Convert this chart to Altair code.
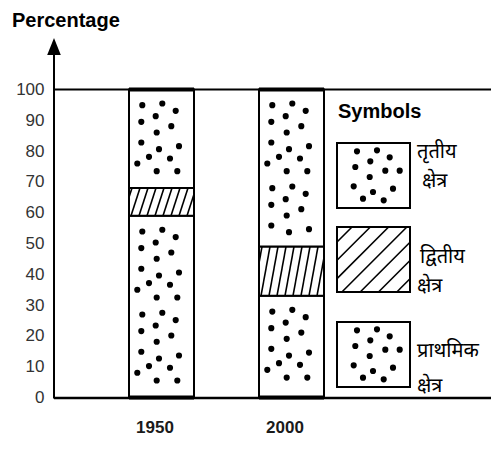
import altair as alt
import pandas as pd
import numpy as np

# ---------------- data ----------------
years = ["1950", "2000"]
primary = [59, 33]      # प्राथमिक क्षेत्र
secondary = [9, 16]     # द्वितीय क्षेत्र
tertiary = [32, 51]     # तृतीय क्षेत्र
sector_names = ["तृतीय", "द्वितीय", "प्राथमिक"]   # legend order, top to bottom
sector_word = "क्षेत्र"
y_ticks = list(range(0, 101, 10))

# ---------------- layout / style ----------------
W, H = 345, 308
STEP = 130.0          # px between the two bars
BAR = 65.0            # bar width px
PXU = H / 100.0       # px per percent
X_MIN = -107.5 / STEP
X_MAX = (W - 107.5) / STEP
HALF = BAR / 2 / STEP

LATIN = "Liberation Sans"
DEVA = "Noto Sans Devanagari, Lohit Devanagari, Mukta, FreeSans, sans-serif"
DOT_SIZE = 38

DOT_MOTIF = [(13.3, 1.7), (33.3, 0), (46.7, 7.3), (12.3, 18.3), (26.7, 12.7),
             (42.3, 22.7), (27.7, 29), (12.3, 39), (30, 45.7), (50, 42.7),
             (20, 53.3), (8.3, 60), (41, 55), (27.7, 67.7), (48.3, 67.7)]
LEG_MOTIF = [(20, 8.3), (40, 7.3), (52.7, 14.3), (18.3, 24), (33.3, 18.3),
             (48.3, 27.7), (62.7, 27.7), (32.7, 34), (16.7, 43.3), (36, 49),
             (56, 45.7), (26, 55.7), (46.7, 57.3)]

# ---------------- derived tables ----------------
seg_rows, dot_rows, hatch_rows, cap_rows = [], [], [], []
for i, yr in enumerate(years):
    p, s, t = primary[i], secondary[i], tertiary[i]
    segs = [("dots", 0, p), ("hatch", p, p + s), ("dots", p + s, p + s + t)]
    x0, x1 = i - HALF, i + HALF
    cap_rows.append({"x0": x0, "x1": x1, "y": 0})
    cap_rows.append({"x0": x0, "x1": x1, "y": p + s + t})
    for kind, y0, y1 in segs:
        seg_rows.append({"x0": x0, "x1": x1, "y0": y0, "y1": y1})
        h = (y1 - y0) * PXU
        if kind == "dots":
            k = 0
            while 14 + k * 83 < h - 8:
                base = 14 + k * 83
                for dx, dy in DOT_MOTIF:
                    d = base + dy
                    if d <= h - 8:
                        dot_rows.append({"x": x0 + dx / STEP, "y": y1 - d / PXU})
                k += 1
        else:
            sp, sl = 8.0, 9.0
            for b in np.arange(-sl + 3, BAR, sp):
                xa, ya = b, 0.0
                xb, yb = b + sl, h
                if xa < 0:
                    f = -xa / sl
                    xa, ya = 0.0, f * h
                if xb > BAR:
                    f = (BAR - b) / sl
                    xb, yb = BAR, f * h
                hatch_rows.append({"x": x0 + xa / STEP, "y": y0 + ya / PXU,
                                   "x2": x0 + xb / STEP, "y2": y0 + yb / PXU})

segs_df = pd.DataFrame(seg_rows)
dots_df = pd.DataFrame(dot_rows)
hatch_df = pd.DataFrame(hatch_rows)
caps_df = pd.DataFrame(cap_rows)

xs = alt.Scale(domain=[X_MIN, X_MAX], nice=False, zero=False)
ys = alt.Scale(domain=[0, 100], nice=False)

label_expr = "[" + ",".join("'%s'" % y for y in years) + "][datum.value]"
X_AXIS = alt.Axis(values=list(range(len(years))), labelExpr=label_expr,
                  title=None, domain=False, ticks=False, grid=False,
                  labelFont=LATIN, labelFontSize=17, labelFontWeight="bold",
                  labelColor="#1a1a1a", labelPadding=22, labelOffset=-7)
Y_AXIS = alt.Axis(values=y_ticks, title=None, domain=False, ticks=False,
                  grid=False, labelFont=LATIN, labelFontSize=17,
                  labelColor="#333333", labelPadding=10)

def X(f):
    return alt.X(f, scale=xs, axis=X_AXIS)

def Y(f):
    return alt.Y(f, scale=ys, axis=Y_AXIS)

bars = alt.Chart(segs_df).mark_rect(fill="white", stroke="black", strokeWidth=2).encode(
    x=X("x0:Q"), x2="x1:Q", y=Y("y0:Q"), y2="y1:Q")

dots = alt.Chart(dots_df).mark_point(shape="circle", filled=True, size=DOT_SIZE,
                                     color="black", opacity=1).encode(
    x=X("x:Q"), y=Y("y:Q"))

hatch = alt.Chart(hatch_df).mark_rule(color="black", strokeWidth=1.6).encode(
    x=X("x:Q"), y=Y("y:Q"), x2="x2:Q", y2="y2:Q")

caps = alt.Chart(caps_df).mark_rule(color="black", strokeWidth=4).encode(
    x=X("x0:Q"), x2="x1:Q", y=Y("y:Q"))

# frame lines
base_df = pd.DataFrame({"a": [0]})
top_line = alt.Chart(base_df).mark_rule(color="black", strokeWidth=2).encode(
    x=alt.value(0), x2=alt.value(445), y=alt.value(0))
bottom_line = alt.Chart(base_df).mark_rule(color="black", strokeWidth=2.5).encode(
    x=alt.value(0), x2=alt.value(445), y=alt.value(H + 0.5))
y_line = alt.Chart(base_df).mark_rule(color="black", strokeWidth=2).encode(
    x=alt.value(0), y=alt.value(-44), y2=alt.value(H + 1))
arrow = alt.Chart(base_df).mark_point(shape="M0,-1L0.8,1L-0.8,1Z", filled=True,
                                      size=289, color="black", opacity=1).encode(
    x=alt.value(0), y=alt.value(-43))

# legend
LX, LW, LH = 283, 73, 65
LTOPS = [53.5, 137.5, 232.5]
LKIND = ["dots", "hatch", "dots"]
box_rows, ldot_rows, lh_rows = [], [], []
for top, kind in zip(LTOPS, LKIND):
    box_rows.append({"x": LX, "x2": LX + LW, "y": top, "y2": top + LH})
    if kind == "dots":
        for dx, dy in LEG_MOTIF:
            ldot_rows.append({"x": LX + dx, "y": top + dy})
    else:
        c = 15.0
        while c < LW + LH:
            xa = max(0.0, c - LH)
            xb = min(float(LW), c)
            if xb > xa:
                lh_rows.append({"x": LX + xa, "y": top + c - xa,
                                "x2": LX + xb, "y2": top + c - xb})
            c += 18.3

boxes = alt.Chart(pd.DataFrame(box_rows)).mark_rect(fill="white", stroke="black",
                                                    strokeWidth=2).encode(
    x=alt.X("x:Q", scale=None), x2="x2:Q", y=alt.Y("y:Q", scale=None), y2="y2:Q")
ldots = alt.Chart(pd.DataFrame(ldot_rows)).mark_point(shape="circle", filled=True,
                                                      size=DOT_SIZE, color="black", opacity=1).encode(
    x=alt.X("x:Q", scale=None), y=alt.Y("y:Q", scale=None))
lhatch = alt.Chart(pd.DataFrame(lh_rows)).mark_rule(color="black", strokeWidth=1.6).encode(
    x=alt.X("x:Q", scale=None), x2="x2:Q", y=alt.Y("y:Q", scale=None), y2="y2:Q")

def txt(s, x, y, font, size, weight="normal"):
    return alt.Chart(pd.DataFrame({"t": [s]})).mark_text(
        align="left", baseline="alphabetic", font=font, fontSize=size,
        fontWeight=weight, color="black").encode(
        text="t:N", x=alt.value(x), y=alt.value(y))

texts = [
    txt("Percentage", -42, -62.5, LATIN, 20, "bold"),
    txt("Symbols", 284, 28.8, LATIN, 20, "bold"),
    txt(sector_names[0], 363, 68.5, DEVA, 20),
    txt(sector_word, 368, 97.5, DEVA, 20),
    txt(sector_names[1], 366, 173.5, DEVA, 20),
    txt(sector_word, 363, 202.5, DEVA, 20),
    txt(sector_names[2], 363, 267.5, DEVA, 20),
    txt(sector_word, 363, 302.5, DEVA, 20),
]

chart = alt.layer(
    bars, dots, hatch, caps, top_line, bottom_line, y_line, arrow,
    boxes, ldots, lhatch, *texts
).properties(
    width=W, height=H,
    autosize=alt.AutoSizeParams(type="none"),
    padding={"left": 46, "top": 81.5, "right": 92, "bottom": 43.5},
).configure(background="white").configure_view(stroke=None)

chart.save("out.html", embed_options={"renderer": "svg", "actions": False})
